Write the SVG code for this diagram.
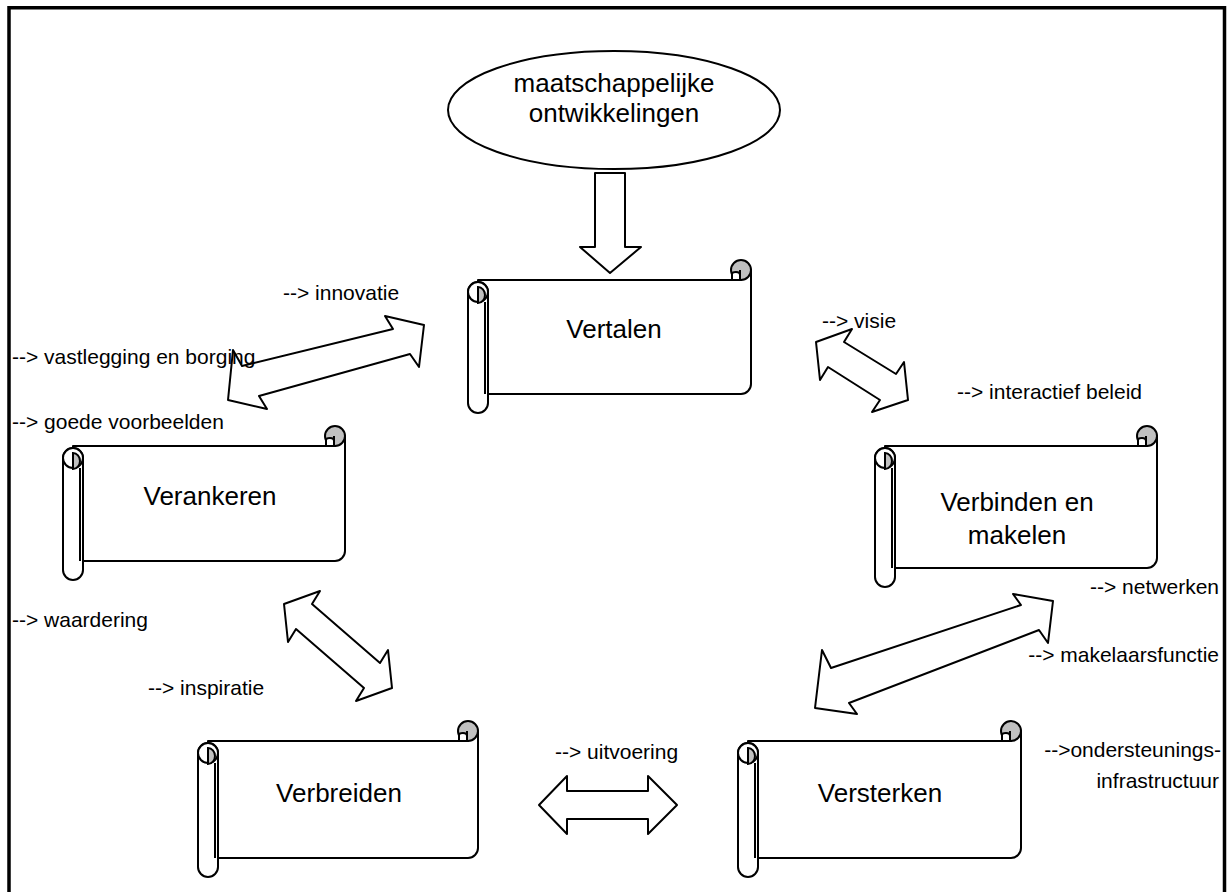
<svg xmlns="http://www.w3.org/2000/svg" width="1229" height="892" viewBox="0 0 1229 892">
<style>
.ln{fill:#fff;stroke:#000;stroke-width:2;stroke-linejoin:round}
.gr{fill:#c0c0c0;stroke:#000;stroke-width:2}
.nl{fill:none;stroke:#000;stroke-width:2}
.t{font-family:"Liberation Sans",Arial,sans-serif;font-size:26px;fill:#000;text-anchor:middle}
.lb{font-family:"Liberation Sans",Arial,sans-serif;font-size:21px;fill:#000}
</style>
<rect width="1229" height="892" fill="#fff"/>
<path d="M9,892 V7.7 H1224.5 V892" fill="none" stroke="#000" stroke-width="3.5"/>

<g id="maatschappelijke">
<ellipse cx="614" cy="110" rx="166" ry="59" class="ln"/>
<text class="t" x="614" y="92">maatschappelijke</text>
<text class="t" x="614" y="122">ontwikkelingen</text>
</g>

<g id="vertalen">
<path class="ln" d="M478,280 H741 V270 H751 V384 A10 10 0 0 1 741,394 H478 Z"/>
<circle class="gr" cx="741" cy="270" r="10"/>
<path class="ln" d="M732,280 V274 Q732,272 736,272 Q740,272 740,275 V280 Z"/>
<path class="nl" d="M740,270 V280"/>
<path class="ln" d="M468,292 V403 A10 10 0 0 0 488,403 V292 A10 10 0 0 0 468,292 Z"/>
<circle class="ln" cx="478" cy="292" r="10"/>
<path class="gr" d="M478,287 A7 8 0 0 1 478,303 Z"/>
<path class="nl" d="M485,302 V394"/>
<text class="t" x="614" y="338">Vertalen</text>
</g>

<g id="verankeren">
<path class="ln" d="M73,446 H335 V436 H345 V551 A10 10 0 0 1 335,561 H73 Z"/>
<circle class="gr" cx="335" cy="436" r="10"/>
<path class="ln" d="M326,446 V440 Q326,438 330,438 Q334,438 334,441 V446 Z"/>
<path class="nl" d="M334,436 V446"/>
<path class="ln" d="M63,458 V570 A10 10 0 0 0 83,570 V458 A10 10 0 0 0 63,458 Z"/>
<circle class="ln" cx="73" cy="458" r="10"/>
<path class="gr" d="M73,453 A7 8 0 0 1 73,469 Z"/>
<path class="nl" d="M80,468 V561"/>
<text class="t" x="210" y="505">Verankeren</text>
</g>

<g id="verbinden">
<path class="ln" d="M885,446 H1147 V436 H1157 V558 A10 10 0 0 1 1147,568 H885 Z"/>
<circle class="gr" cx="1147" cy="436" r="10"/>
<path class="ln" d="M1138,446 V440 Q1138,438 1142,438 Q1146,438 1146,441 V446 Z"/>
<path class="nl" d="M1146,436 V446"/>
<path class="ln" d="M875,458 V577 A10 10 0 0 0 895,577 V458 A10 10 0 0 0 875,458 Z"/>
<circle class="ln" cx="885" cy="458" r="10"/>
<path class="gr" d="M885,453 A7 8 0 0 1 885,469 Z"/>
<path class="nl" d="M892,468 V568"/>
<text class="t" x="1017" y="511">Verbinden en</text>
<text class="t" x="1017" y="544">makelen</text>
</g>

<g id="verbreiden">
<path class="ln" d="M208,741 H468 V731 H478 V848 A10 10 0 0 1 468,858 H208 Z"/>
<circle class="gr" cx="468" cy="731" r="10"/>
<path class="ln" d="M459,741 V735 Q459,733 463,733 Q467,733 467,736 V741 Z"/>
<path class="nl" d="M467,731 V741"/>
<path class="ln" d="M198,753 V867 A10 10 0 0 0 218,867 V753 A10 10 0 0 0 198,753 Z"/>
<circle class="ln" cx="208" cy="753" r="10"/>
<path class="gr" d="M208,748 A7 8 0 0 1 208,764 Z"/>
<path class="nl" d="M215,763 V858"/>
<text class="t" x="339" y="802">Verbreiden</text>
</g>

<g id="versterken">
<path class="ln" d="M748,741 H1011 V731 H1021 V848 A10 10 0 0 1 1011,858 H748 Z"/>
<circle class="gr" cx="1011" cy="731" r="10"/>
<path class="ln" d="M1002,741 V735 Q1002,733 1006,733 Q1010,733 1010,736 V741 Z"/>
<path class="nl" d="M1010,731 V741"/>
<path class="ln" d="M738,753 V867 A10 10 0 0 0 758,867 V753 A10 10 0 0 0 738,753 Z"/>
<circle class="ln" cx="748" cy="753" r="10"/>
<path class="gr" d="M748,748 A7 8 0 0 1 748,764 Z"/>
<path class="nl" d="M755,763 V858"/>
<text class="t" x="880" y="802">Versterken</text>
</g>

<g id="connectors">
<polygon class="ln" points="595,173 625,173 625,247 641,247 610,273 580,247 595,247"/>
<polygon class="ln" points="424,325 419,367 410,354 259,396 267,409 228,400 233,350 242,366 393,329 385,316"/>
<polygon class="ln" points="816,342 852,329 844,342 896,374 904,362 908,400 872,412 880,400 828,367 820,380"/>
<polygon class="ln" points="284,604 320,591 312,604 380,663 388,650 392,688 356,701 364,688 296,629 288,642"/>
<polygon class="ln" points="1053,601 1048,643 1039,630 849,703 857,714 815,708 822,650 831,668 1021,605 1013,594"/>
<polygon class="ln" points="539,805 567,776 567,791 648,791 648,776 677,805 648,834 648,819 567,819 567,834"/>
</g>

<g id="labels">
<text class="lb" x="283" y="300">--&gt; innovatie</text>
<text class="lb" x="12" y="364">--&gt; vastlegging en borging</text>
<text class="lb" x="12" y="429">--&gt; goede voorbeelden</text>
<text class="lb" x="822" y="328">--&gt; visie</text>
<text class="lb" x="957" y="399">--&gt; interactief beleid</text>
<text class="lb" x="1219" y="594" text-anchor="end">--&gt; netwerken</text>
<text class="lb" x="1219" y="662" text-anchor="end">--&gt; makelaarsfunctie</text>
<text class="lb" x="1221" y="757" text-anchor="end">--&gt;ondersteunings-</text>
<text class="lb" x="1219" y="788" text-anchor="end">infrastructuur</text>
<text class="lb" x="12" y="627">--&gt; waardering</text>
<text class="lb" x="148" y="695">--&gt; inspiratie</text>
<text class="lb" x="555" y="759">--&gt; uitvoering</text>
</g>
</svg>
